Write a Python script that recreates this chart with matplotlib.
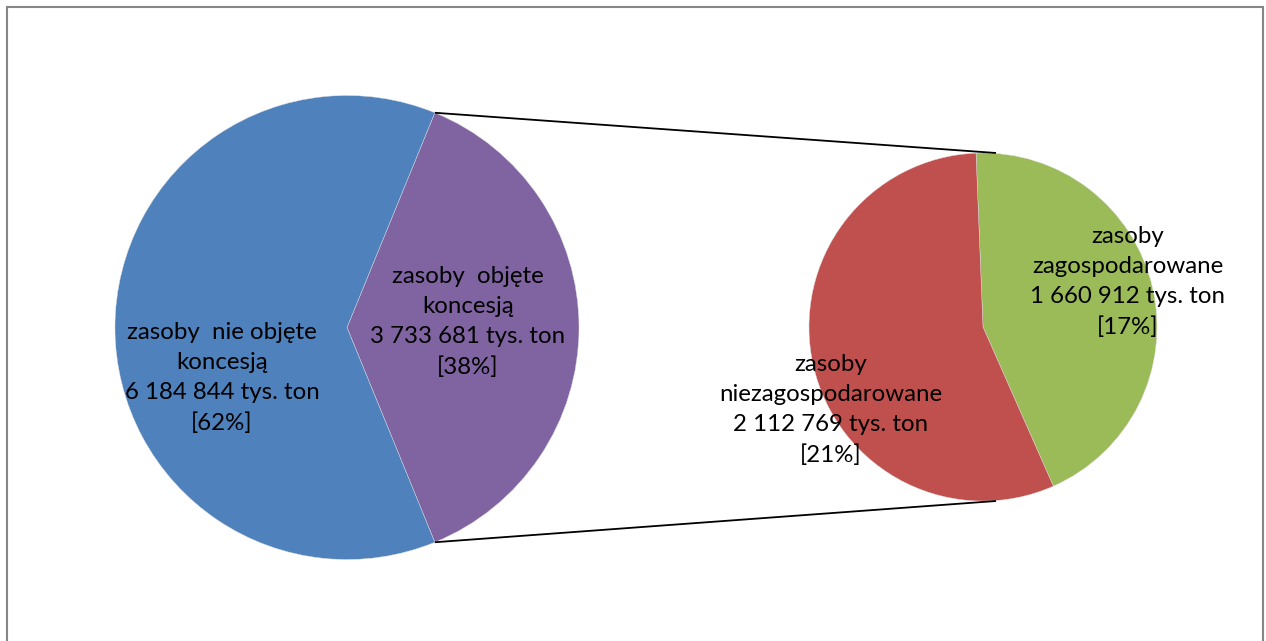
import numpy as np
import matplotlib.pyplot as plt
from matplotlib.patches import Rectangle

plt.rcParams['font.family'] = ['Lato', 'DejaVu Sans']

# main pie: purple (objęte koncesją) first, then blue
main_labels = ['zasoby  objęte\nkoncesją', 'zasoby  nie objęte\nkoncesją']
main_values = [3733681, 6184844]
main_colors = ['#8064A2', '#4F81BD']

# second pie: split of the purple slice
sub_labels = ['zasoby\nzagospodarowane', 'zasoby\nniezagospodarowane']
sub_values = [1660912, 2112769]
sub_colors = ['#9BBB59', '#C0504D']

total = sum(main_values)

W, H = 1266, 641
fig = plt.figure(figsize=(W / 100, H / 100), dpi=100)
ax = fig.add_axes([0, 0, 1, 1])

# chart frame
ax.add_patch(Rectangle((7, -20), 1256, H - 7 + 20, fill=False,
                       edgecolor='#868686', linewidth=1.5))

c1, r1 = (347, H - 327.5), 232
c2, r2 = (983, H - 327), 174

half = 360 * main_values[0] / total / 2
ax.pie(main_values, colors=main_colors, center=c1, radius=r1,
       startangle=half, counterclock=False, frame=True,
       wedgeprops=dict(edgecolor='#dddddd', linewidth=0.3))
ax.pie(sub_values, colors=sub_colors, center=c2, radius=r2,
       startangle=92.3, counterclock=False, frame=True,
       wedgeprops=dict(edgecolor='#dddddd', linewidth=0.3))
ax.set_xlim(0, W)
ax.set_ylim(0, H)
ax.set_aspect('equal')
ax.axis('off')

# connector lines
a = np.deg2rad(half)
for s in (1, -1):
    x0 = c1[0] + r1 * np.cos(a)
    y0 = c1[1] + s * r1 * np.sin(a)
    x1 = c2[0] + 13
    y1 = c2[1] + s * r2
    ax.plot([x0, x1], [y0, y1], color='black', linewidth=1.3,
            solid_capstyle='butt')

def fmt(v):
    return f'{v:,}'.replace(',', ' ')

def pct(v):
    return f'[{round(100 * v / total)}%]'

label_pos = {
    main_labels[0]: (468, 322),
    main_labels[1]: (222, 378),
    sub_labels[0]: (1128, 282),
    sub_labels[1]: (831, 410),
}
for lab, val in zip(main_labels + sub_labels, main_values + sub_values):
    x, y = label_pos[lab]
    txt = f'{lab}\n{fmt(val)} tys. ton\n{pct(val)}'
    ax.text(x, H - y, txt, ha='center', va='center', fontsize=17.3,
            linespacing=1.52, color='black')

fig.savefig('out.png', dpi=100)
